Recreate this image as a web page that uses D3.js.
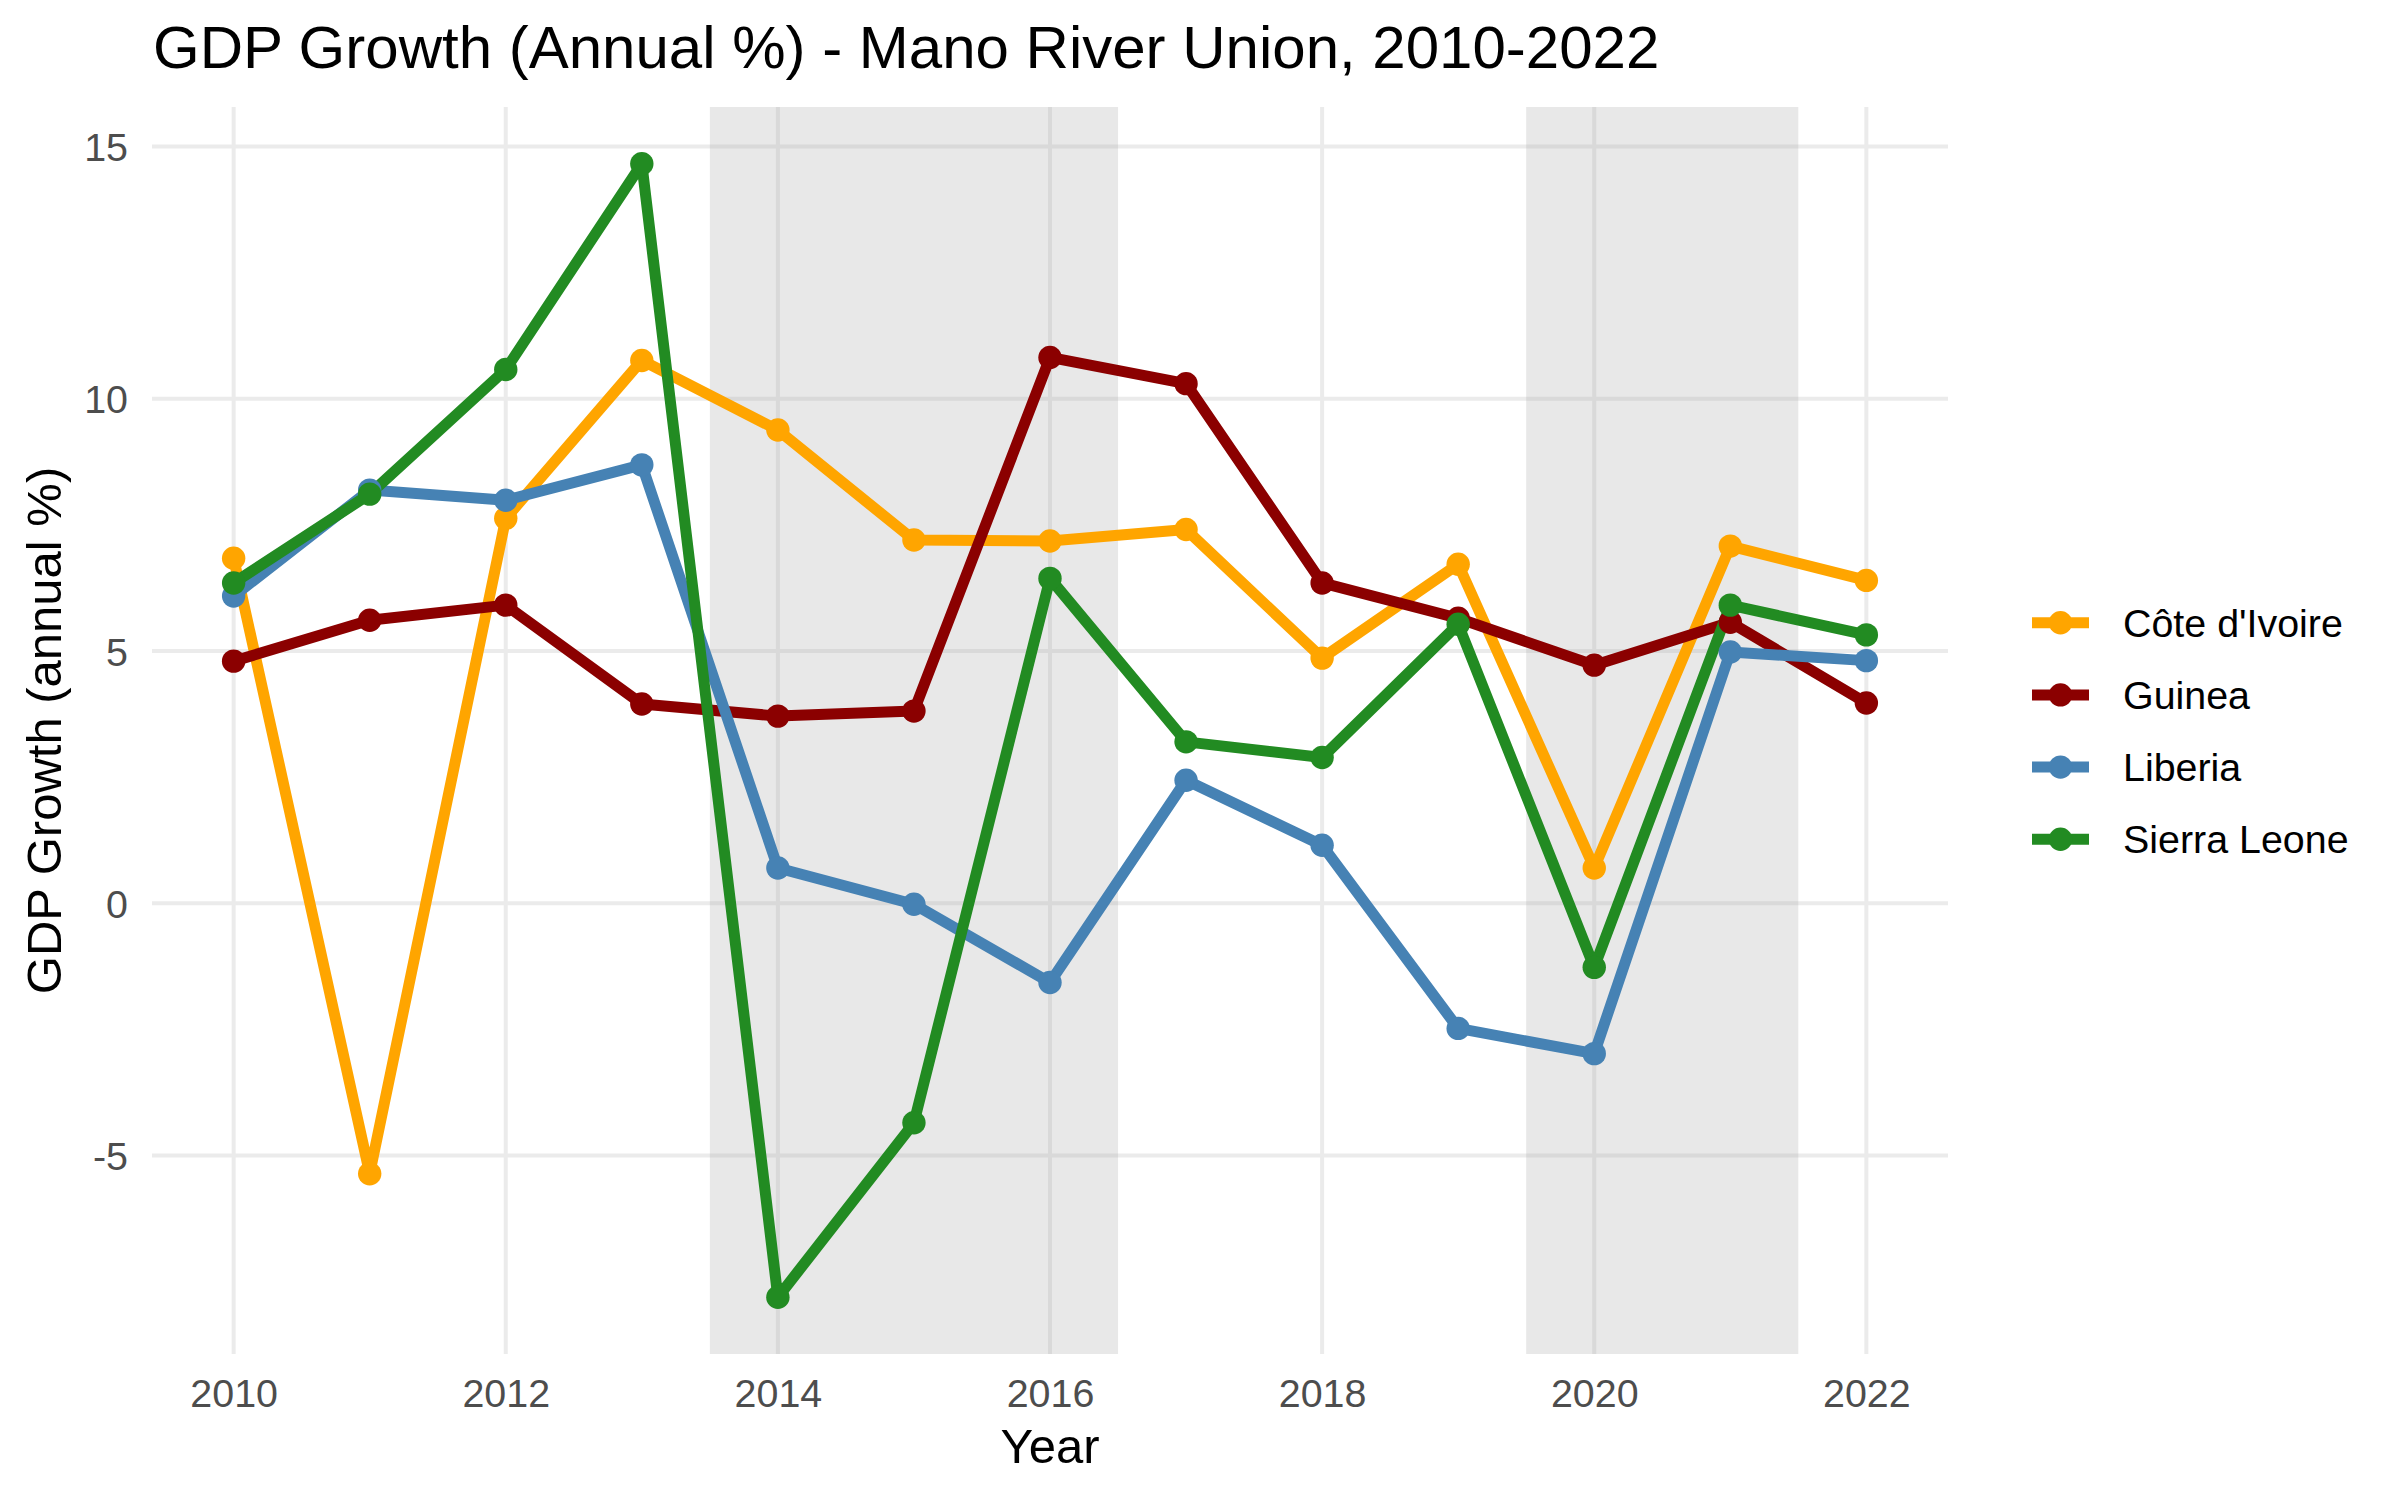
<!DOCTYPE html>
<html><head><meta charset="utf-8">
<script src="https://cdn.jsdelivr.net/npm/d3@7"></script>
<style>body{margin:0;background:#fff}svg{display:block}text{font-family:"Liberation Sans",Arial,Helvetica,sans-serif}</style>
</head><body>
<script>
const years = [2010,2011,2012,2013,2014,2015,2016,2017,2018,2019,2020,2021,2022];
const countries = ["Côte d'Ivoire","Guinea","Liberia","Sierra Leone"];
const colors = ["#FFA500","#8B0000","#4682B4","#228B22"];
const civ = [6.84,-5.36,7.63,10.76,9.38,7.20,7.18,7.41,4.86,6.72,0.70,7.08,6.40];
const guinea = [4.80,5.61,5.91,3.95,3.71,3.81,10.82,10.30,6.35,5.65,4.72,5.57,3.97];
const liberia = [6.09,8.19,7.99,8.69,0.70,-0.02,-1.57,2.44,1.15,-2.48,-2.98,4.98,4.81];
const sierra = [6.35,8.11,10.58,14.66,-7.81,-4.35,6.44,3.20,2.89,5.53,-1.27,5.91,5.32];
const seriesValues = [civ,guinea,liberia,sierra];
const shadeStart = [2013.5,2019.5];
const shadeEnd = [2016.5,2021.5];
const xTicks = [2010,2012,2014,2016,2018,2020,2022];
const yTicks = [-5,0,5,10,15];
const titleText = "GDP Growth (Annual %) - Mano River Union, 2010-2022";
const xTitle = "Year";
const yTitle = "GDP Growth (annual %)";

const W=2400,H=1500;
const L=152,R=1948,T=107,B=1354;
const svg=d3.select("body").append("svg").attr("width",W).attr("height",H);
const allVals=seriesValues.flat();
const ymin=d3.min(allVals), ymax=d3.max(allVals), yr=ymax-ymin;
const x=d3.scaleLinear().domain([2009.4,2022.6]).range([L,R]);
const y=d3.scaleLinear().domain([ymin-0.05*yr,ymax+0.05*yr]).range([B,T]);

const g=svg.append("g");
// grid
g.selectAll(".hg").data(yTicks).join("line").attr("x1",L).attr("x2",R)
 .attr("y1",d=>y(d)).attr("y2",d=>y(d)).attr("stroke","#ebebeb").attr("stroke-width",4);
g.selectAll(".vg").data(xTicks).join("line").attr("y1",T).attr("y2",B)
 .attr("x1",d=>x(d)).attr("x2",d=>x(d)).attr("stroke","#ebebeb").attr("stroke-width",4);
// shading
g.selectAll(".sh").data(shadeStart).join("rect").attr("x",d=>x(d)).attr("width",(d,i)=>x(shadeEnd[i])-x(d))
 .attr("y",T).attr("height",B-T).attr("fill","#a0a0a0").attr("opacity",0.245);
// axis labels
const xa=d3.axisBottom(x).tickValues(xTicks).tickFormat(d=>String(d)).tickSize(0).tickPadding(0);
const gx=svg.append("g").attr("transform",`translate(0,${B})`).call(xa);
gx.select(".domain").remove();
gx.selectAll("text").attr("font-size",39.4).attr("fill","#4d4d4d").attr("dy",null).attr("y",53)
 .attr("font-family",'"Liberation Sans",Arial,sans-serif');
const ya=d3.axisLeft(y).tickValues(yTicks).tickFormat(d=>String(d)).tickSize(0).tickPadding(0);
const gy=svg.append("g").attr("transform",`translate(128,0)`).call(ya);
gy.select(".domain").remove();
gy.selectAll("text").attr("font-size",39.4).attr("fill","#4d4d4d").attr("dy","0.36em").attr("x",0)
 .attr("font-family",'"Liberation Sans",Arial,sans-serif');
// lines
const line=d3.line().x((d,i)=>x(years[i])).y(d=>y(d));
svg.append("g").selectAll("path").data(seriesValues).join("path").attr("d",line)
 .attr("fill","none").attr("stroke",(d,i)=>colors[i]).attr("stroke-width",11).attr("stroke-linejoin","round");
const pts=svg.append("g");
seriesValues.forEach((vals,si)=>{
  pts.selectAll(null).data(vals).join("circle").attr("cx",(d,i)=>x(years[i])).attr("cy",d=>y(d))
   .attr("r",11.7).attr("fill",colors[si]);
});
// titles
svg.append("text").attr("x",153).attr("y",68).attr("font-size",60).attr("fill","#000").text(titleText);
svg.append("text").attr("x",(L+R)/2).attr("y",1463).attr("text-anchor","middle").attr("font-size",49).attr("fill","#000").text(xTitle);
svg.append("text").attr("transform",`translate(61,${(T+B)/2}) rotate(-90)`).attr("text-anchor","middle").attr("font-size",49).attr("fill","#000").text(yTitle);
// legend
const lg=svg.append("g");
countries.forEach((c,i)=>{
  const cy=622.7+i*72.2;
  lg.append("line").attr("x1",2032).attr("x2",2089).attr("y1",cy).attr("y2",cy).attr("stroke",colors[i]).attr("stroke-width",11);
  lg.append("circle").attr("cx",2060.5).attr("cy",cy).attr("r",11.7).attr("fill",colors[i]);
  lg.append("text").attr("x",2123).attr("y",cy).attr("dy","0.36em").attr("font-size",39.4).attr("fill","#000").text(c);
});
</script>
</body></html>
